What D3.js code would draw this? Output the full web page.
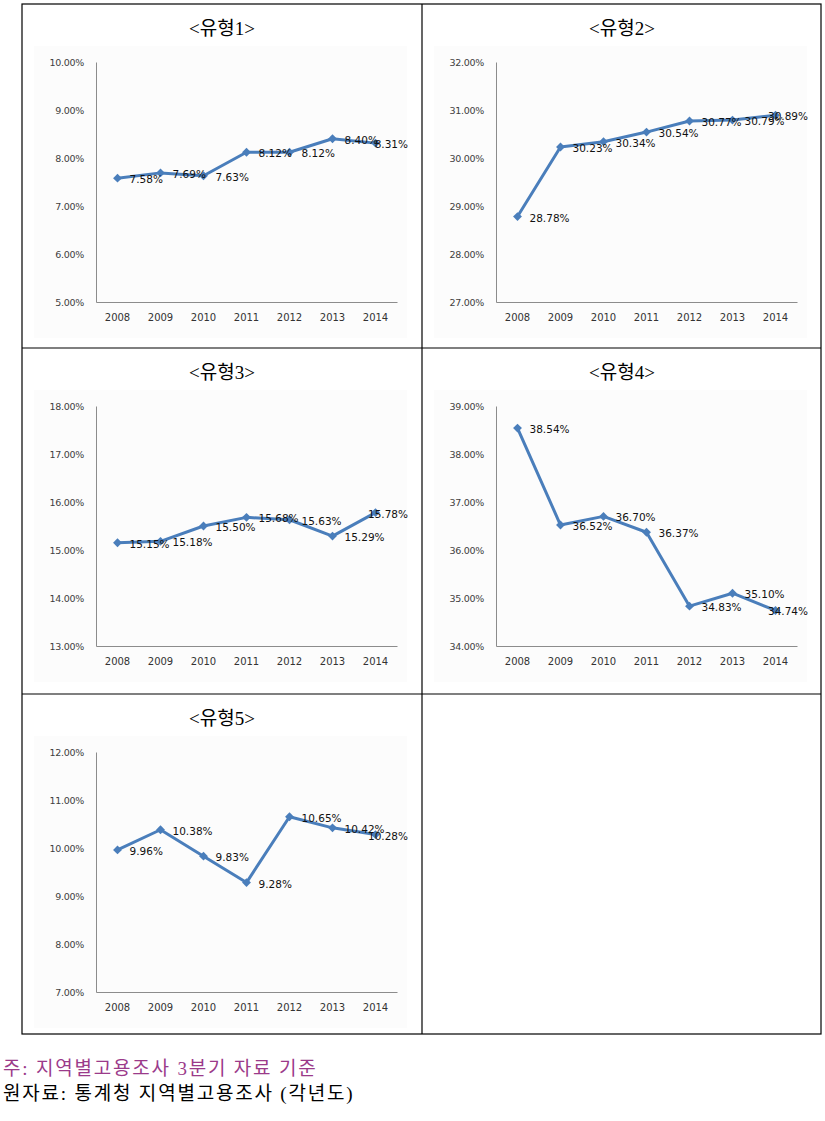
<!DOCTYPE html>
<html><head><meta charset="utf-8">
<script src="https://cdn.jsdelivr.net/npm/d3@7"></script>
<style>
body{margin:0;background:#fff;}
svg{display:block;}
</style></head><body>
<svg id="c" width="825" height="1121"></svg>
<script>
const years = ["2008","2009","2010","2011","2012","2013","2014"];
const titles = ["<유형1>","<유형2>","<유형3>","<유형4>","<유형5>"];
const type1 = [7.58, 7.69, 7.63, 8.12, 8.12, 8.40, 8.31];
const type2 = [28.78, 30.23, 30.34, 30.54, 30.77, 30.79, 30.89];
const type3 = [15.15, 15.18, 15.50, 15.68, 15.63, 15.29, 15.78];
const type4 = [38.54, 36.52, 36.70, 36.37, 34.83, 35.10, 34.74];
const type5 = [9.96, 10.38, 9.83, 9.28, 10.65, 10.42, 10.28];
const seriesList = [type1, type2, type3, type4, type5];
const yDomains = [[5,10],[27,32],[13,18],[34,39],[7,12]];
const note1 = "주: 지역별고용조사 3분기 자료 기준";
const note2 = "원자료: 통계청 지역별고용조사 (각년도)";

const svg = d3.select("#c");
const tableL = 22, tableM = 422, tableR = 821;
const rowY = [4, 348, 694, 1034];

const g0 = svg.append("g").attr("stroke","#000").attr("stroke-width",1.2).attr("fill","none");
g0.append("rect").attr("x",tableL).attr("y",rowY[0]).attr("width",tableR-tableL).attr("height",rowY[3]-rowY[0]);
g0.append("line").attr("x1",tableM).attr("x2",tableM).attr("y1",rowY[0]).attr("y2",rowY[3]);
g0.append("line").attr("x1",tableL).attr("x2",tableR).attr("y1",rowY[1]).attr("y2",rowY[1]);
g0.append("line").attr("x1",tableL).attr("x2",tableR).attr("y1",rowY[2]).attr("y2",rowY[2]);

const color = "#4a7ebb";

seriesList.forEach((vals, i) => {
  const col = i % 2, row = Math.floor(i / 2);
  const L = col === 0 ? tableL : tableM;
  const T = rowY[row];
  const g = svg.append("g");
  g.append("rect").attr("x", L+12).attr("y", T+42).attr("width", 373).attr("height", 292)
    .attr("fill","#fcfcfc");
  const x0 = L + 74, x1 = L + 375;
  const yTop = T + 58, yBot = T + 298;
  const x = d3.scaleBand().domain(years).range([x0, x1]);
  const y = d3.scaleLinear().domain(yDomains[i]).range([yBot, yTop]);

  g.append("text").attr("x", L + 200).attr("y", T + 31).attr("text-anchor","middle")
    .attr("font-family","'Liberation Serif','Noto Sans CJK KR',serif").attr("font-size",19)
    .attr("fill","#000").text(titles[i]);

  const ya = d3.axisLeft(y).tickValues(d3.range(yDomains[i][0], yDomains[i][1]+0.001, 1))
    .tickSize(0).tickPadding(12).tickFormat(d => d.toFixed(2) + "%");
  const yg = g.append("g").attr("transform", `translate(${x0},0)`).call(ya);
  yg.select(".domain").attr("stroke","#8c8c8c");
  yg.selectAll("text").attr("font-family","'DejaVu Sans',sans-serif").attr("font-size",9.5)
    .attr("fill","#404040").attr("letter-spacing","-0.3");

  const xa = d3.axisBottom(x).tickSize(0).tickPadding(12);
  const xg = g.append("g").attr("transform", `translate(0,${yBot})`).call(xa);
  xg.select(".domain").attr("stroke","#8c8c8c");
  xg.selectAll("text").attr("font-family","'DejaVu Sans',sans-serif").attr("font-size",10)
    .attr("fill","#333");

  const cx = d => x(d) + x.bandwidth()/2;
  const line = d3.line().x((d, j) => cx(years[j])).y(d => y(d));
  g.append("path").datum(vals).attr("d", line).attr("fill","none")
    .attr("stroke", color).attr("stroke-width", 3).attr("stroke-linejoin","round");
  g.selectAll(".m").data(vals).join("path")
    .attr("d", d3.symbol(d3.symbolDiamond2, 50)())
    .attr("transform", (d, j) => `translate(${cx(years[j])},${y(d)})`)
    .attr("fill", color);
  const maxRight = L + 386;
  g.selectAll(".lbl").data(vals).join("text")
    .attr("y", d => y(d) + 5)
    .attr("font-family","'DejaVu Sans',sans-serif").attr("font-size",10.5)
    .attr("fill","#111")
    .text(d => d.toFixed(2) + "%")
    .attr("x", function(d, j) {
      const w = this.getComputedTextLength();
      return Math.min(cx(years[j]) + 12, maxRight - w);
    });
});

svg.append("text").attr("x", 3).attr("y", 1075)
  .attr("font-family","'Liberation Serif','Noto Sans CJK KR',serif").attr("font-size",19)
  .attr("letter-spacing",1.8)
  .attr("fill","#9b3a8a").text(note1);
svg.append("text").attr("x", 3).attr("y", 1100)
  .attr("font-family","'Liberation Serif','Noto Sans CJK KR',serif").attr("font-size",19)
  .attr("letter-spacing",1.8)
  .attr("fill","#000").text(note2);
</script>
</body></html>
